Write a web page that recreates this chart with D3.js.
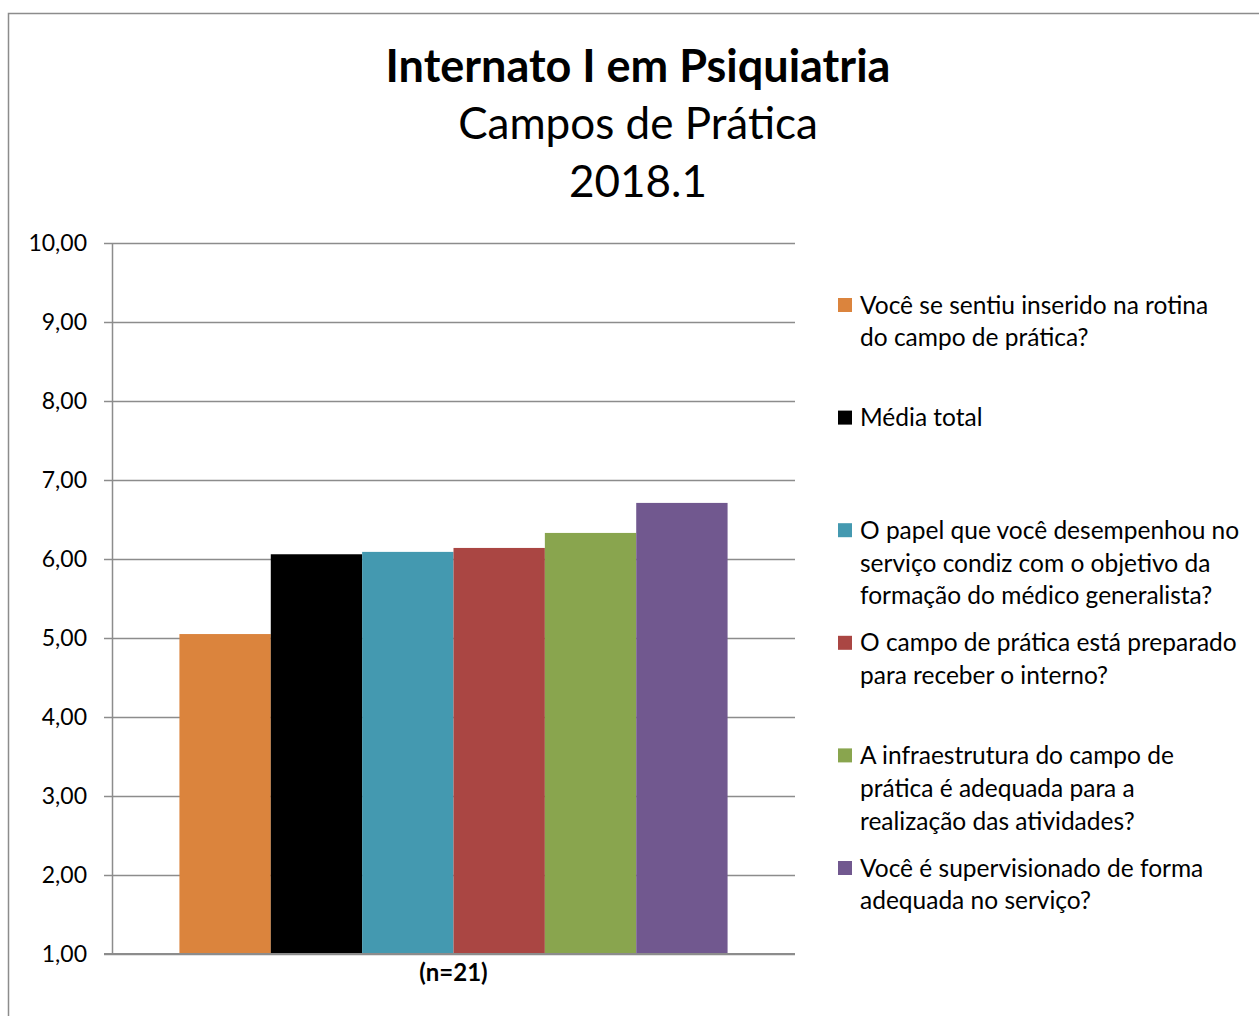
<!DOCTYPE html>
<html>
<head>
<meta charset="utf-8">
<script src="https://cdn.jsdelivr.net/npm/d3@7"></script>
<style>
  body { margin: 0; background: #fff; }
  text { font-family: Lato, 'Open Sans', sans-serif; fill: #000; }
</style>
</head>
<body>
<div id="chart"></div>
<script>
const seriesNames = [
  ['Você se sentiu inserido na rotina', 'do campo de prática?'],
  ['Média total'],
  ['O papel que você desempenhou no', 'serviço condiz com o objetivo da', 'formação do médico generalista?'],
  ['O campo de prática está preparado', 'para receber o interno?'],
  ['A infraestrutura do campo de', 'prática é adequada para a', 'realização das atividades?'],
  ['Você é supervisionado de forma', 'adequada no serviço?']
]
const seriesValues = [5.05, 6.06, 6.09, 6.14, 6.33, 6.71]
const seriesColors = ['#DB843D', '#000000', '#4499B0', '#AA4643', '#89A54E', '#71588F']
const yTicks = [1, 2, 3, 4, 5, 6, 7, 8, 9, 10]
const category = '(n=21)'
const titleLines = ['Internato I em Psiquiatria', 'Campos de Prática', '2018.1']

const chartWidth = 1259
const chartHeight = 1016
const margin = { top: 243, bottom: 62, left: 112, right: 464 }
const height = chartHeight - margin.top - margin.bottom
const width = chartWidth - margin.left - margin.right

const root = d3.select('#chart')
  .append('svg')
  .attr('width', chartWidth)
  .attr('height', chartHeight)

// outer frame
root.append('rect')
  .attr('x', 8.5).attr('y', 13.5)
  .attr('width', 1300).attr('height', 1100)
  .attr('fill', 'none').attr('stroke', '#8c8c8c').attr('stroke-width', 1.5)

// title
const titleY = [66, 124, 182]
root.selectAll('.title')
  .data(titleLines)
  .enter()
  .append('text')
  .attr('class', 'title')
  .attr('x', 638)
  .attr('y', (d, i) => titleY[i])
  .attr('dy', '0.35em')
  .attr('text-anchor', 'middle')
  .attr('font-size', (d, i) => (i === 0 ? 45 : 44))
  .attr('font-weight', (d, i) => (i === 0 ? 'bold' : 'normal'))
  .text((d) => d)

const svg = root.append('g')
  .attr('transform', `translate(${margin.left}, ${margin.top})`)

const x0 = d3.scaleBand().domain([category]).range([0, width]).paddingInner(0).paddingOuter(0.123)
const x1 = d3.scaleBand().domain(d3.range(seriesValues.length)).range([0, x0.bandwidth()])
const y = d3.scaleLinear().domain([1, 10]).range([height, 0])

// gridlines
svg.append('g')
  .attr('class', 'grid')
  .call(d3.axisLeft(y).tickValues(yTicks).tickSize(-width).tickFormat(''))
  .call((g) => g.select('.domain').remove())
  .call((g) => g.selectAll('line').attr('stroke', '#8c8c8c').attr('stroke-width', 1.5))

// y axis
svg.append('g')
  .attr('class', 'axis y-axis')
  .call(d3.axisLeft(y).tickValues(yTicks).tickSize(8).tickSizeOuter(0).tickPadding(17)
    .tickFormat((d) => d3.format('.2f')(d).replace('.', ',')))
  .call((g) => g.select('.domain').attr('stroke', '#8c8c8c').attr('stroke-width', 1.5))
  .call((g) => g.selectAll('line').attr('stroke', '#8c8c8c').attr('stroke-width', 1.5))
  .call((g) => g.selectAll('text').attr('font-size', 23).attr('font-family', 'Lato, sans-serif').attr('fill', '#000'))

// bars
svg.selectAll('.bar')
  .data(seriesValues)
  .enter()
  .append('rect')
  .attr('class', 'bar')
  .attr('x', (d, i) => x0(category) + x1(i))
  .attr('width', x1.bandwidth())
  .attr('y', (d) => y(d))
  .attr('height', (d) => height - y(d))
  .attr('fill', (d, i) => seriesColors[i])

// x axis
svg.append('g')
  .attr('class', 'axis x-axis')
  .attr('transform', `translate(0, ${height})`)
  .call(d3.axisBottom(x0).tickSize(0).tickPadding(10))
  .call((g) => g.select('.domain').attr('d', `M-8,0H${width}`).attr('stroke', '#8c8c8c').attr('stroke-width', 2))
  .call((g) => g.selectAll('text').attr('font-size', 24).attr('font-weight', 'bold').attr('font-family', 'Lato, sans-serif').attr('fill', '#000'))

// legend
const legend = root.append('g').attr('class', 'legend')
const itemStart = 305
const itemStep = 112.6
const lineStep = 32.8
seriesNames.forEach((lines, i) => {
  const cy = itemStart + i * itemStep
  legend.append('rect')
    .attr('x', 838).attr('y', cy - 7)
    .attr('width', 14).attr('height', 14)
    .attr('fill', seriesColors[i])
  lines.forEach((line, j) => {
    legend.append('text')
      .attr('x', 860)
      .attr('y', cy + j * lineStep)
      .attr('dy', '0.35em')
      .attr('font-size', 24.5)
      .text(line)
  })
})
</script>
</body>
</html>
